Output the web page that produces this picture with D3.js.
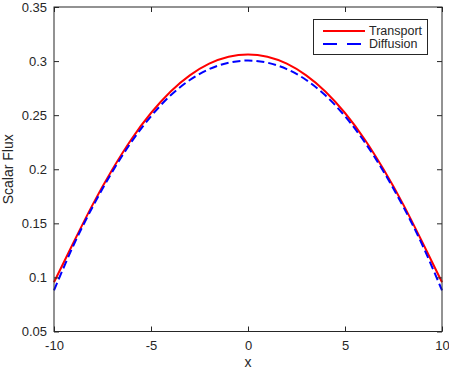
<!DOCTYPE html>
<html>
<head>
<meta charset="utf-8">
<script src="https://cdn.jsdelivr.net/npm/d3@7"></script>
<style>
  body { margin: 0; background: #fff; }
  text { font-family: "Liberation Sans", Arial, sans-serif; fill: #262626; }
</style>
</head>
<body>
<svg id="chart" width="449" height="371"></svg>
<script>
"use strict";

var xValues = [-10, -9, -8, -7, -6, -5, -4, -3, -2, -1, 0, 1, 2, 3, 4, 5, 6, 7, 8, 9, 10];
var transport = [0.0955, 0.1320, 0.1675, 0.1995, 0.2280, 0.2520, 0.2717, 0.2868, 0.2976, 0.3040, 0.3062,
                 0.3040, 0.2976, 0.2868, 0.2717, 0.2520, 0.2280, 0.1995, 0.1675, 0.1320, 0.0955];
var diffusion = [0.0880, 0.1295, 0.1655, 0.1975, 0.2255, 0.2490, 0.2681, 0.2825, 0.2926, 0.2985, 0.3005,
                 0.2985, 0.2926, 0.2825, 0.2681, 0.2490, 0.2255, 0.1975, 0.1655, 0.1295, 0.0880];
var xTicks = [-10, -5, 0, 5, 10];
var yTicks = [0.05, 0.1, 0.15, 0.2, 0.25, 0.3, 0.35];
var seriesNames = ['Transport', 'Diffusion'];

var W = 449, H = 371;
var margin = { top: 7, right: 7, bottom: 39.5, left: 54 };
var axisColor = '#262626';

var svg = d3.select('#chart');
var x = d3.scaleLinear().domain([-10, 10]).range([margin.left, W - margin.right]);
var y = d3.scaleLinear().domain([0.05, 0.35]).range([H - margin.bottom, margin.top]);

// plain hyphen for negatives, like the original
function fmt(v) {
    return String(+v.toFixed(2));
}

function styleAxis(g, showLabels) {
    g.select('.domain').remove();
    g.selectAll('line').attr('stroke', axisColor);
    g.selectAll('text').style('font-size', '13px').attr('fill', axisColor);
    if (!showLabels) g.selectAll('text').remove();
}

var series = [
    { name: seriesNames[0], values: transport, color: '#ff0000', dash: null, legendDash: null },
    { name: seriesNames[1], values: diffusion, color: '#0000ff', dash: '8,4', legendDash: '14,10' }
];

var line = d3.line()
    .x(function (d) { return x(d.x); })
    .y(function (d) { return y(d.y); })
    .curve(d3.curveNatural);

series.forEach(function (s) {
    var pts = xValues.map(function (xv, i) { return { x: xv, y: s.values[i] }; });
    svg.append('path')
        .datum(pts)
        .attr('d', line)
        .attr('fill', 'none')
        .attr('stroke', s.color)
        .attr('stroke-width', 2)
        .attr('stroke-dasharray', s.dash);
});

// axes with inward ticks on all four sides
svg.append('g')
    .attr('transform', 'translate(0,' + (H - margin.bottom) + ')')
    .call(d3.axisBottom(x).tickValues(xTicks).tickSize(-5).tickPadding(9).tickFormat(fmt))
    .call(styleAxis, true);
svg.append('g')
    .attr('transform', 'translate(0,' + margin.top + ')')
    .call(d3.axisTop(x).tickValues(xTicks).tickSize(-5))
    .call(styleAxis, false);
svg.append('g')
    .attr('transform', 'translate(' + margin.left + ',0)')
    .call(d3.axisLeft(y).tickValues(yTicks).tickSize(-5).tickPadding(7).tickFormat(fmt))
    .call(styleAxis, true);
svg.append('g')
    .attr('transform', 'translate(' + (W - margin.right) + ',0)')
    .call(d3.axisRight(y).tickValues(yTicks).tickSize(-5))
    .call(styleAxis, false);

svg.append('rect')
    .attr('x', margin.left)
    .attr('y', margin.top)
    .attr('width', W - margin.left - margin.right)
    .attr('height', H - margin.top - margin.bottom)
    .attr('fill', 'none')
    .attr('stroke', axisColor)
    .attr('stroke-width', 1);

svg.append('text')
    .attr('x', (margin.left + W - margin.right) / 2)
    .attr('y', 367)
    .attr('text-anchor', 'middle')
    .style('font-size', '14px')
    .text('x');

svg.append('text')
    .attr('transform', 'translate(13,' + ((margin.top + H - margin.bottom) / 2) + ') rotate(-90)')
    .attr('text-anchor', 'middle')
    .style('font-size', '14px')
    .text('Scalar Flux');

// legend
var legend = svg.append('g').attr('transform', 'translate(313.5,19.5)');
legend.append('rect')
    .attr('width', 114)
    .attr('height', 35)
    .attr('fill', '#fff')
    .attr('stroke', axisColor)
    .attr('stroke-width', 1);
series.forEach(function (s, i) {
    var row = legend.append('g').attr('transform', 'translate(0,' + (11.5 + i * 13) + ')');
    row.append('line')
        .attr('x1', 9.5).attr('x2', 51.5)
        .attr('stroke', s.color)
        .attr('stroke-width', 2)
        .attr('stroke-dasharray', s.legendDash);
    row.append('text')
        .attr('x', 55.5)
        .attr('dy', '0.35em')
        .style('font-size', '12.5px')
        .text(s.name);
});
</script>
</body>
</html>
